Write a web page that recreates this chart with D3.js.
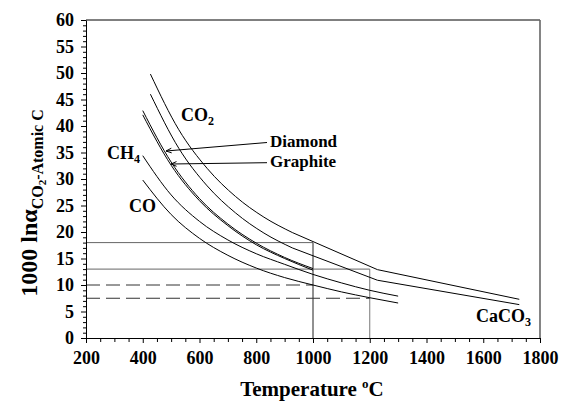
<!DOCTYPE html>
<html>
<head>
<meta charset="utf-8">
<script src="https://cdn.jsdelivr.net/npm/d3@7/dist/d3.min.js"></script>
<style>
  html, body { margin: 0; padding: 0; background: #fff; }
  svg { display: block; }
  text { font-family: "Liberation Serif", "Times New Roman", serif; font-weight: bold; fill: #000; }
</style>
</head>
<body>
<svg id="chart" width="569" height="408"></svg>
<script>
// Temperatures (°C) for the two high-temperature series, sampled every 100 K up to 1200 K, then 1500 K and 2000 K
const tempHigh = [427, 527, 627, 727, 827, 927, 1227, 1727];
const co2Values = [49.8, 39.3, 32.0, 26.7, 22.8, 19.9, 12.9, 7.3];
const caco3Values = [46.0, 35.8, 28.7, 23.6, 19.8, 17.0, 10.9, 6.3];

// Carbon polymorphs, 400–1000 °C
const tempCarbon = [400, 500, 600, 700, 800, 900, 1000];
const diamondValues = [42.9, 33.2, 26.3, 21.5, 17.9, 15.2, 13.1];
const graphiteValues = [42.1, 32.6, 25.9, 21.2, 17.6, 15.0, 12.8];

// Gas species, 400–1300 °C
const tempGas = [400, 500, 600, 700, 800, 900, 1000, 1100, 1200, 1300];
const ch4Values = [34.4, 27.0, 22.0, 18.5, 15.9, 13.9, 12.0, 10.4, 9.0, 7.9];
const coValues = [29.8, 23.3, 18.8, 15.6, 13.2, 11.4, 10.0, 8.7, 7.6, 6.6];

// Reference read-offs at 1000 °C and 1200 °C
const refTemps = [1000, 1200, 1000, 1200];
const refValues = [18, 13, 10, 7.5];
const refDashed = [false, false, true, true];

// Axis ticks
const xMajorTicks = [200, 400, 600, 800, 1000, 1200, 1400, 1600, 1800];
const yMajorTicks = [0, 5, 10, 15, 20, 25, 30, 35, 40, 45, 50, 55, 60];

const svg = d3.select("#chart");
const plotLeft = 86, plotRight = 540, plotTop = 20, plotBottom = 338;
const serif = "Liberation Serif";

const x = d3.scaleLinear().domain([200, 1800]).range([plotLeft, plotRight]);
const y = d3.scaleLinear().domain([0, 60]).range([plotBottom, plotTop]);

// Frame: top and right edges
svg.append("line").attr("x1", plotLeft).attr("x2", plotRight).attr("y1", plotTop).attr("y2", plotTop)
  .attr("stroke", "#000").attr("stroke-width", 1);
svg.append("line").attr("x1", plotRight).attr("x2", plotRight).attr("y1", plotTop).attr("y2", plotBottom)
  .attr("stroke", "#666").attr("stroke-width", 1.6);

// Reference lines
refTemps.forEach((t, i) => {
  const g = svg.append("g");
  g.append("line")
    .attr("x1", x(200)).attr("x2", x(t))
    .attr("y1", y(refValues[i])).attr("y2", y(refValues[i]))
    .attr("stroke", refDashed[i] ? "#333" : "#666")
    .attr("stroke-width", 1)
    .attr("stroke-dasharray", refDashed[i] ? "14,6" : null);
  if (!refDashed[i]) {
    g.append("line")
      .attr("x1", x(t)).attr("x2", x(t))
      .attr("y1", y(0)).attr("y2", y(refValues[i]))
      .attr("stroke", t === 1000 ? "#222" : "#777")
      .attr("stroke-width", 1);
  }
});

// Curves: smooth through the low-temperature samples, straight segments across the sparse high-temperature ones
const smooth = d3.line().x(d => x(d[0])).y(d => y(d[1])).curve(d3.curveMonotoneX);
const straight = d3.line().x(d => x(d[0])).y(d => y(d[1]));
function drawCurve(ts, vs, smoothUntil) {
  const pts = ts.map((t, i) => [t, vs[i]]);
  const a = pts.filter(p => p[0] <= smoothUntil);
  const b = pts.filter(p => p[0] >= smoothUntil);
  svg.append("path").datum(a).attr("d", smooth)
    .attr("fill", "none").attr("stroke", "#000").attr("stroke-width", 1);
  if (b.length > 1) {
    svg.append("path").datum(b).attr("d", straight)
      .attr("fill", "none").attr("stroke", "#000").attr("stroke-width", 1);
  }
}
drawCurve(tempHigh, co2Values, 927);
drawCurve(tempHigh, caco3Values, 927);
drawCurve(tempCarbon, diamondValues, 1000);
drawCurve(tempCarbon, graphiteValues, 1000);
drawCurve(tempGas, ch4Values, 1300);
drawCurve(tempGas, coValues, 1300);

// X axis
const xMinor = d3.range(200, 1801, 50).filter(v => v % 200 !== 0);
svg.append("g").attr("transform", `translate(0,${plotBottom})`)
  .call(d3.axisBottom(x).tickValues(xMinor).tickSize(4).tickFormat(""))
  .call(g => g.select(".domain").remove());
const xAxis = svg.append("g").attr("transform", `translate(0,${plotBottom})`)
  .call(d3.axisBottom(x).tickValues(xMajorTicks).tickFormat(d3.format("d"))
    .tickSize(5).tickPadding(8).tickSizeOuter(0));
xAxis.attr("font-family", serif).attr("font-size", 18).attr("font-weight", "bold");

// Y axis
const yMinor = d3.range(0, 61, 1).filter(v => v % 5 !== 0);
svg.append("g").attr("transform", `translate(${plotLeft},0)`)
  .call(d3.axisLeft(y).tickValues(yMinor).tickSize(3).tickFormat(""))
  .call(g => g.select(".domain").remove());
const yAxis = svg.append("g").attr("transform", `translate(${plotLeft},0)`)
  .call(d3.axisLeft(y).tickValues(yMajorTicks).tickFormat(d3.format("d"))
    .tickSize(5).tickPadding(7).tickSizeOuter(0));
yAxis.attr("font-family", serif).attr("font-size", 18).attr("font-weight", "bold");
svg.selectAll(".domain").attr("stroke", "#000");
svg.selectAll(".tick text").style("font-family", serif).style("font-weight", "bold");

// Series labels
function label(px, py, main, sub, size) {
  const t = svg.append("text").attr("x", px).attr("y", py).attr("font-size", size || 18);
  t.append("tspan").text(main);
  if (sub) t.append("tspan").attr("font-size", 12).attr("dy", 4).text(sub);
  return t;
}
label(181, 121, "CO", "2");
label(107, 159, "CH", "4");
label(129, 212, "CO");
label(476, 322, "CaCO", "3");
label(270, 147, "Diamond", null, 17);
label(270, 167, "Graphite", null, 17);

// Pointer arrows from the polymorph labels to their curves
function arrow(x1, y1, x2, y2) {
  svg.append("line").attr("x1", x1).attr("y1", y1).attr("x2", x2).attr("y2", y2)
    .attr("stroke", "#000").attr("stroke-width", 1);
  const ang = Math.atan2(y1 - y2, x1 - x2);
  const len = 6, spread = 0.4;
  const p = d3.path();
  p.moveTo(x2 + len * Math.cos(ang + spread), y2 + len * Math.sin(ang + spread));
  p.lineTo(x2, y2);
  p.lineTo(x2 + len * Math.cos(ang - spread), y2 + len * Math.sin(ang - spread));
  svg.append("path").attr("d", p.toString()).attr("fill", "none").attr("stroke", "#000").attr("stroke-width", 1);
}
arrow(267, 142.5, 166, 151);
arrow(267, 162.7, 171, 164);

// Axis titles
const xt = svg.append("text").attr("x", 312).attr("y", 396).attr("text-anchor", "middle").attr("font-size", 21);
xt.append("tspan").text("Temperature ");
xt.append("tspan").attr("font-size", 13).attr("dy", -8).text("o");
xt.append("tspan").attr("dy", 8).text("C");

const yt = svg.append("text")
  .attr("transform", "translate(37,203) rotate(-90)")
  .attr("text-anchor", "middle").attr("font-size", 24);
yt.append("tspan").text("1000 ln\u03B1");
yt.append("tspan").attr("font-size", 16).attr("dy", 6).text("CO");
yt.append("tspan").attr("font-size", 11).attr("dy", 3).text("2");
yt.append("tspan").attr("font-size", 16).attr("dy", -3).text("-Atomic C");
</script>
</body>
</html>
